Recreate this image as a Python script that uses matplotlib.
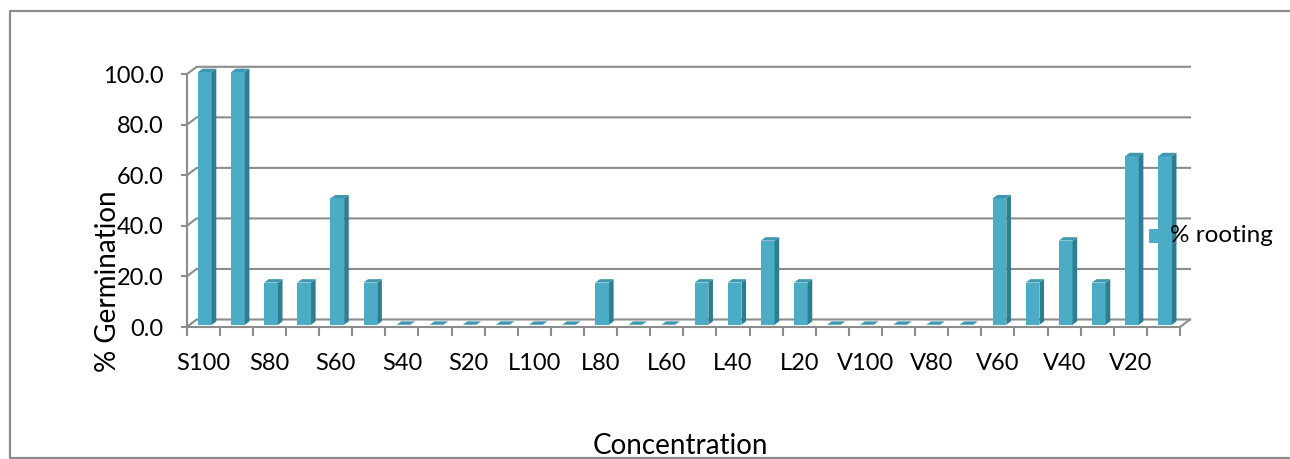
import matplotlib
matplotlib.use("Agg")
import matplotlib.pyplot as plt
from matplotlib.patches import Rectangle
from matplotlib.collections import PolyCollection
from matplotlib.lines import Line2D

plt.rcParams['font.family'] = ['Lato', 'DejaVu Sans']

# ---- data -------------------------------------------------------------
categories = ["S100", "S90", "S80", "S70", "S60", "S50", "S40", "S30", "S20", "S10",
              "L100", "L90", "L80", "L70", "L60", "L50", "L40", "L30", "L20", "L10",
              "V100", "V90", "V80", "V70", "V60", "V50", "V40", "V30", "V20", "V10"]
rooting = [100.0, 100.0, 16.7, 16.7, 50.0, 16.7, 0.0, 0.0, 0.0, 0.0,
           0.0, 0.0, 16.7, 0.0, 0.0, 16.7, 16.7, 33.3, 16.7, 0.0,
           0.0, 0.0, 0.0, 0.0, 50.0, 16.7, 33.3, 16.7, 66.7, 66.7]
y_ticks = [0, 20, 40, 60, 80, 100]
series_name = "% rooting"
x_title = "Concentration"
y_title = "% Germination"

# ---- styling ----------------------------------------------------------
W, H, DPI = 1290, 459, 100
FRONT = "#4bacc6"
SIDE = "#2f7d91"
TOP = "#3f98b0"
GRID = "#8c8c8c"
TICK_FS = 17
TITLE_FS = 20

fig = plt.figure(figsize=(W / DPI, H / DPI), dpi=DPI)

# plot area placed in pixel units (front plane of the pseudo-3D box)
x0_px, x1_px = 186.7, 1180.0
y0_px, y1_px = 327.0, 74.3
ax = fig.add_axes([x0_px / W, 1 - y0_px / H, (x1_px - x0_px) / W, (y0_px - y1_px) / H])
n = len(categories)
ax.set_xlim(0, n)
ax.set_ylim(0, 100)
for s in ax.spines.values():
    s.set_visible(False)
ax.set_facecolor("none")

px_x = (x1_px - x0_px) / n        # pixels per category
px_y = (y0_px - y1_px) / 100.0    # pixels per unit


def dx(p):
    return p / px_x


def dy(p):
    return p / px_y


# depth of the walls and of the bars, in data units
wall_dx, wall_dy = dx(10.0), dy(7.5)
bar_off_x, bar_off_y = dx(3.0), dy(2.25)
bar_dx, bar_dy = dx(4.6), dy(3.4)
bar_left = dx(11.3) - bar_off_x
bar_w = dx(13.7)

lw = 1.5
# back wall gridlines + side wall diagonals
for v in y_ticks:
    ax.add_line(Line2D([0, wall_dx, n + wall_dx], [v, v + wall_dy, v + wall_dy],
                       color=GRID, lw=lw, clip_on=False, zorder=1))
# left front edge and floor
ax.add_line(Line2D([0, 0], [0, 100], color=GRID, lw=lw, clip_on=False, zorder=1))
ax.add_line(Line2D([0, n, n + wall_dx], [0, 0, wall_dy], color=GRID, lw=lw,
                   clip_on=False, zorder=1))

# bars: front faces from the values, side and top faces from the same values
xs = [i + bar_left + bar_off_x for i in range(n)]
base = bar_off_y
ax.bar(xs, rooting, width=bar_w, bottom=base, align="edge", color=FRONT,
       edgecolor="none", zorder=3, clip_on=False)
sides, tops = [], []
for x, v in zip(xs, rooting):
    xl, xr = x, x + bar_w
    yb, yt = base, base + v
    sides.append([(xr, yb), (xr, yt), (xr + bar_dx, yt + bar_dy), (xr + bar_dx, yb + bar_dy)])
    tops.append([(xl, yt), (xr, yt), (xr + bar_dx, yt + bar_dy), (xl + bar_dx, yt + bar_dy)])
ax.add_collection(PolyCollection(sides, facecolors=SIDE, edgecolors="none", zorder=3, clip_on=False))
ax.add_collection(PolyCollection(tops, facecolors=TOP, edgecolors="none", zorder=3, clip_on=False))

# ticks
ax.set_yticks(y_ticks)
ax.set_yticklabels([f"{v:.1f}" for v in y_ticks])
ax.tick_params(axis="y", direction="out", length=4.5, width=lw, color=GRID,
               pad=12, labelsize=TICK_FS, labelcolor="black")
ax.set_xticks([i + 0.5 for i in range(n)])
ax.set_xticklabels([c if i % 2 == 0 else "" for i, c in enumerate(categories)])
ax.set_xticks(range(n + 1), minor=True)
ax.tick_params(axis="x", which="major", length=0, pad=19, labelsize=TICK_FS, labelcolor="black")
ax.tick_params(axis="x", which="minor", direction="out", length=6.5, width=lw, color=GRID)

# axis titles
fig.text(680 / W, 1 - 458.5 / H, x_title, ha="center", va="bottom", fontsize=TITLE_FS)
fig.text(108 / W, 1 - 281 / H, y_title, ha="center", va="center", rotation=90, fontsize=TITLE_FS)

# legend entry
fig.patches.append(Rectangle((1149 / W, 1 - 243 / H), 13 / W, 14 / H, transform=fig.transFigure,
                             facecolor=FRONT, edgecolor="none"))
fig.text(1170 / W, 1 - 236 / H, series_name, ha="left", va="center", fontsize=TICK_FS + 0.5)

# chart border
fig.add_artist(Line2D([1.0, 10 / W, 10 / W, 1.0], [1 - 11 / H, 1 - 11 / H, 1 - 458 / H, 1 - 458 / H],
                      transform=fig.transFigure, color=GRID, lw=1.6))

fig.savefig("out.png", dpi=DPI)
